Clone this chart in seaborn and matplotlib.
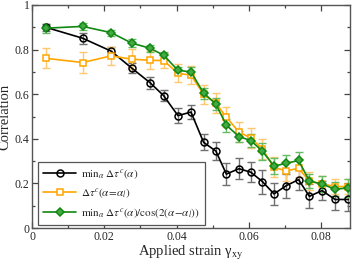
import numpy as np
import pandas as pd
import seaborn as sns
import matplotlib
matplotlib.use('Agg')
import matplotlib.pyplot as plt
from matplotlib.ticker import MultipleLocator, FuncFormatter

strain = [0.0038, 0.0140, 0.0219, 0.0276, 0.0327, 0.0364, 0.0404, 0.0440, 0.0475, 0.0509, 0.0538,
          0.0573, 0.0606, 0.0638, 0.0670, 0.0704, 0.0738, 0.0768, 0.0803, 0.0839, 0.0876]

# min_alpha dtau^c(alpha)
min_corr = [0.900, 0.851, 0.793, 0.717, 0.651, 0.594, 0.504, 0.520, 0.384, 0.345, 0.242,
            0.266, 0.250, 0.208, 0.153, 0.190, 0.217, 0.142, 0.168, 0.128, 0.128]
min_err = [0.015, 0.025, 0.019, 0.022, 0.028, 0.026, 0.034, 0.030, 0.036, 0.040, 0.050,
           0.048, 0.045, 0.054, 0.050, 0.054, 0.046, 0.054, 0.041, 0.045, 0.050]

# dtau^c(alpha=alpha_l)
al_corr = [0.761, 0.742, 0.772, 0.757, 0.752, 0.751, 0.694, 0.685, 0.600, 0.560, 0.497,
           0.430, 0.404, 0.354, 0.272, 0.256, 0.268, 0.210, 0.198, 0.186, 0.186]
al_err = [0.045, 0.047, 0.041, 0.045, 0.040, 0.035, 0.041, 0.040, 0.042, 0.045, 0.045,
          0.045, 0.045, 0.045, 0.045, 0.045, 0.040, 0.040, 0.035, 0.035, 0.035]

# min_alpha dtau^c(alpha)/cos(2(alpha-alpha_l))
cos_corr = [0.896, 0.904, 0.876, 0.829, 0.806, 0.775, 0.707, 0.700, 0.605, 0.556, 0.461,
            0.410, 0.392, 0.344, 0.278, 0.290, 0.303, 0.211, 0.197, 0.174, 0.180]
cos_err = [0.020, 0.015, 0.013, 0.017, 0.016, 0.016, 0.016, 0.022, 0.025, 0.027, 0.030,
           0.024, 0.030, 0.037, 0.035, 0.037, 0.038, 0.030, 0.037, 0.032, 0.040]

labels = [r'$\mathrm{min}_\alpha\ \Delta\tau^c(\alpha)$',
          r'$\Delta\tau^c(\alpha\!=\!\alpha_l)$',
          r'$\mathrm{min}_\alpha\ \Delta\tau^c(\alpha)/\mathrm{cos}(2(\alpha\!-\!\alpha_l))$']

sns.set_style('ticks')
plt.rcParams['font.family'] = ['Liberation Serif', 'DejaVu Serif']
plt.rcParams['mathtext.fontset'] = 'stix'

fig = plt.figure(figsize=(3.53, 2.63), dpi=100)
ax = fig.add_axes([0.091, 0.133, 0.9, 0.848])

series = [
    (min_corr, min_err, 'black', '#707070', 'o', 'none', 5.0),
    (al_corr, al_err, '#ffa500', '#ffc870', 's', 'white', 4.8),
    (cos_corr, cos_err, '#118811', '#66bb66', 'D', '#44aa44', 4.2),
]

for (y, e, c, ec, m, fc, ms), lab in zip(series, labels):
    df = pd.DataFrame({'strain': strain, 'corr': y})
    ax.errorbar(strain, y, yerr=e, fmt='none', ecolor=ec, elinewidth=1.0, capsize=2.8, capthick=1.0, zorder=1)
    sns.lineplot(data=df, x='strain', y='corr', ax=ax, color=c, marker=m, markersize=ms,
                 markerfacecolor=fc, markeredgecolor=c, markeredgewidth=1.1, linewidth=1.2,
                 label=lab, zorder=2)

ax.set_xlim(0, 0.088)
ax.set_ylim(0, 1)
ax.xaxis.set_major_locator(MultipleLocator(0.02))
ax.xaxis.set_minor_locator(MultipleLocator(0.01))
ax.yaxis.set_major_locator(MultipleLocator(0.2))
ax.yaxis.set_minor_locator(MultipleLocator(0.1))
fmt = FuncFormatter(lambda v, p: '%g' % round(v, 6))
ax.xaxis.set_major_formatter(fmt)
ax.yaxis.set_major_formatter(fmt)
ax.tick_params(which='both', direction='in', top=True, right=True, color='#444444', labelsize=8.5, pad=2)
ax.tick_params(which='major', length=4.5, width=0.9)
ax.tick_params(which='minor', length=2.5, width=0.9)
for s in ax.spines.values():
    s.set_color('#555555')
    s.set_linewidth(1.0)

ax.set_xlabel(r'Applied strain γ$_{\mathrm{xy}}$', fontsize=10.5, labelpad=1)
ax.set_ylabel('Correlation', fontsize=10.5, labelpad=2)

leg = ax.legend(loc='lower left', bbox_to_anchor=(0.012, 0.005), fontsize=8, frameon=True,
                fancybox=False, framealpha=1, edgecolor='#555555', handlelength=3.0,
                borderpad=0.45, labelspacing=0.5, handletextpad=0.4, borderaxespad=0.2)
leg.get_frame().set_linewidth(0.9)

fig.savefig('out.png', dpi=100)
